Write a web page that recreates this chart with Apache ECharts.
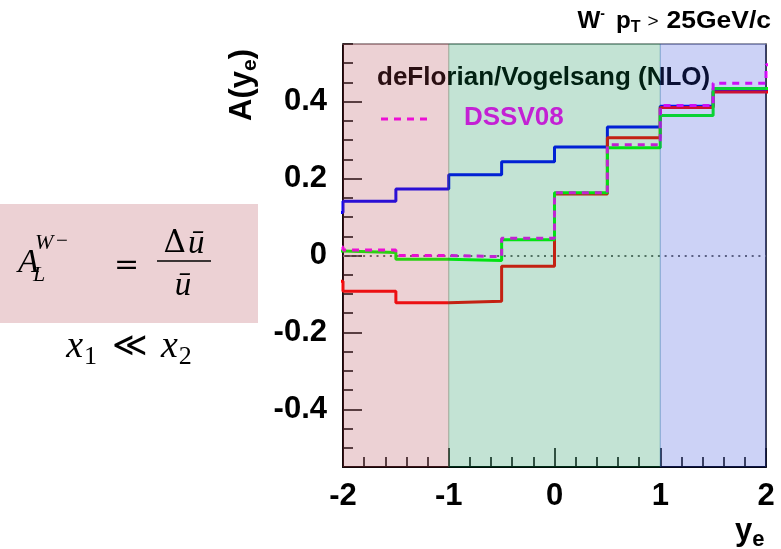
<!DOCTYPE html>
<html>
<head>
<meta charset="utf-8">
<script src="https://cdn.jsdelivr.net/npm/echarts@6/dist/echarts.min.js"></script>
<style>
  html, body { margin: 0; padding: 0; background: #fff; }
  #chart { width: 781px; height: 549px; }
</style>
</head>
<body>
<div id="chart"></div>
<script>
// Bin left edges in y_e (first and last bins lie just outside the axis range)
const binLeft = [-2.5, -2, -1.5, -1, -0.5, 0, 0.5, 1, 1.5, 2];
const binRightEnd = 2.5;

// Asymmetry A(y_e) per bin for each curve
const blueVals    = [0.112, 0.141, 0.173, 0.210, 0.244, 0.282, 0.334, 0.388, 0.428, 0.428];
const redVals     = [-0.067, -0.093, -0.123, -0.119, -0.028, 0.160, 0.306, 0.385, 0.425, 0.425];
const greenVals   = [0.012, 0.008, -0.010, -0.013, 0.041, 0.163, 0.280, 0.364, 0.434, 0.434];
const dssv08Vals  = [0.022, 0.014, 0.000, -0.003, 0.045, 0.163, 0.288, 0.390, 0.448, 0.496];

// Shaded rapidity regions [from, to]
const regions = [[-2, -1], [-1, 1], [1, 2]];
const regionColors = ['rgba(176,63,76,0.24)', 'rgba(5,138,76,0.24)', 'rgba(42,68,217,0.24)'];

// Axis ticks
const xTickLabels = [-2, -1, 0, 1, 2];
const yTickLabels = [-0.4, -0.2, 0, 0.2, 0.4];
const yMin = -0.55, yMax = 0.55;

function stepData(vals) {
  const pts = binLeft.map((x, i) => [x, vals[i]]);
  pts.push([binRightEnd, vals[vals.length - 1]]);
  return pts;
}

const mctx = document.createElement('canvas').getContext('2d');
function fontStr(r) {
  return (r.style || 'normal') + ' ' + (r.weight || 'normal') + ' ' + r.size + 'px ' + (r.family || '"Liberation Sans"');
}
// Lay out a row of text runs (for sub/superscripts); sx widens a run horizontally
function textRuns(runs, x, y, o) {
  o = o || {};
  const widths = runs.map(r => { mctx.font = fontStr(r); return mctx.measureText(r.t).width * (r.sx || 1) + (r.gap || 0); });
  const total = widths.reduce((a, b) => a + b, 0);
  const rot = o.rotation || 0;
  let adv = o.align === 'right' ? -total : o.align === 'center' ? -total / 2 : 0;
  return runs.map((r, i) => {
    const dy = r.dy || 0;
    let px, py;
    if (rot) { px = x + dy; py = y - adv; }
    else { px = x + adv; py = y + dy; }
    adv += widths[i];
    return {
      type: 'text', x: px, y: py, rotation: rot, scaleX: r.sx || 1, z: o.z || 1, silent: true,
      style: {
        text: r.t, font: fontStr(r), fill: r.color || o.color || '#000',
        align: 'left', verticalAlign: 'middle', textAlign: 'left', textVerticalAlign: 'middle'
      }
    };
  });
}

const chart = echarts.init(document.getElementById('chart'), null, { renderer: 'canvas' });

const labelFont = { fontSize: 31, fontWeight: 'bold', color: '#000', fontFamily: '"Liberation Sans", Arial, sans-serif' };
const serif = '"Liberation Serif", "DejaVu Serif", serif';
const serif2 = '"DejaVu Serif", serif';

const graphics = [].concat(
  // formula panel
  [{
    type: 'rect', shape: { x: 0, y: 204, width: 258, height: 119 }, z: 1, silent: true,
    style: { fill: '#ecd1d4' }
  }],
  textRuns([{ t: 'A', size: 34, style: 'italic', family: serif }], 18, 263),
  textRuns([{ t: 'W', size: 22, style: 'italic', family: serif }], 35, 243),
  textRuns([{ t: '\u2212', size: 21, family: serif }], 56, 241),
  textRuns([{ t: 'L', size: 22, style: 'italic', family: serif }], 33, 275),
  textRuns([{ t: '=', size: 30, family: serif2 }], 114, 266),
  textRuns([
    { t: '\u0394', size: 31, family: serif2, gap: 2 },
    { t: '\u016B', size: 33, style: 'italic', family: serif }
  ], 184, 244, { align: 'center' }),
  [{
    type: 'line', shape: { x1: 157, y1: 261, x2: 211, y2: 261 }, z: 1, silent: true,
    style: { stroke: '#000', lineWidth: 1.5 }
  }],
  textRuns([{ t: '\u016B', size: 33, style: 'italic', family: serif }], 183, 286, { align: 'center' }),
  textRuns([
    { t: 'x', size: 38, style: 'italic', family: serif, gap: 1 },
    { t: '1', size: 26, family: serif, dy: 10, gap: 15 },
    { t: '\u226A', size: 34, family: serif2, gap: 13 },
    { t: 'x', size: 38, style: 'italic', family: serif, gap: 1 },
    { t: '2', size: 26, family: serif, dy: 10 }
  ], 129, 347, { align: 'center' }),
  // header
  textRuns([
    { t: 'W', size: 23, weight: 'bold', sx: 1.05 },
    { t: '-', size: 14, weight: 'bold', dy: -8, gap: 11 },
    { t: 'p', size: 23, weight: 'bold', sx: 1.05 },
    { t: 'T', size: 16, weight: 'bold', dy: 6, gap: 7 },
    { t: '>', size: 19, gap: 8 },
    { t: '25GeV/c', size: 23, weight: 'bold', sx: 1.15 }
  ], 771, 22, { align: 'right' }),
  // axis titles
  textRuns([
    { t: 'A(y', size: 31, weight: 'bold' },
    { t: 'e', size: 21, weight: 'bold', dy: 8 },
    { t: ')', size: 31, weight: 'bold' }
  ], 242, 85, { align: 'center', rotation: Math.PI / 2 }),
  textRuns([
    { t: 'y', size: 31, weight: 'bold' },
    { t: 'e', size: 22, weight: 'bold', dy: 9 }
  ], 735, 531),
  // legend (sits under the shaded regions)
  textRuns([{ t: 'deFlorian/Vogelsang (NLO)', size: 26, weight: 'bold' }], 377, 78, { z: 3 }),
  [{
    type: 'line', shape: { x1: 381, y1: 119, x2: 428, y2: 119 }, z: 3, silent: true,
    style: { stroke: '#ff00ff', lineWidth: 3, lineDash: [7, 6] }
  }],
  textRuns([{ t: 'DSSV08', size: 26, weight: 'bold', color: '#ff00ff' }], 464, 118, { z: 3 })
);

function stepSeries(name, vals, color, dashed, z) {
  return {
    name: name, type: 'line', step: 'end', data: stepData(vals),
    showSymbol: false, symbol: 'none', z: z, clip: true,
    lineStyle: { color: color, width: 3, type: dashed ? [7, 6] : 'solid' },
    emphasis: { disabled: true }
  };
}

const option = {
  animation: false,
  backgroundColor: '#fff',
  grid: { left: 343, right: 15, top: 44, bottom: 82, containLabel: false },
  xAxis: [{
    type: 'value', min: -2, max: 2, interval: 1, position: 'bottom',
    axisLine: { show: true, onZero: false, lineStyle: { color: '#000', width: 2 } },
    axisTick: { show: true, inside: true, length: 19, lineStyle: { color: '#000', width: 1.5 } },
    minorTick: { show: true, splitNumber: 5, length: 10, lineStyle: { color: '#000', width: 1.5 } },
    axisLabel: Object.assign({ margin: 14, formatter: v => xTickLabels.includes(v) ? String(v) : '' }, labelFont),
    splitLine: { show: false }
  }, {
    type: 'value', min: -2, max: 2, interval: 1, position: 'top',
    axisLine: { show: true, onZero: false, lineStyle: { color: '#888', width: 1.5 } },
    axisTick: { show: false }, axisLabel: { show: false }, splitLine: { show: false }
  }],
  yAxis: [{
    type: 'value', min: yMin, max: yMax, interval: 0.05, position: 'left',
    axisLine: { show: true, onZero: false, lineStyle: { color: '#000', width: 2 } },
    axisTick: { show: true, inside: true, length: 10, lineStyle: { color: '#000', width: 1.5 } },
    axisLabel: Object.assign({
      margin: 16,
      padding: [10, 0, 0, 0],
      formatter: v => {
        const hit = yTickLabels.find(t => Math.abs(t - v) < 1e-6);
        return hit === undefined ? '' : (hit === 0 ? '0' : hit.toFixed(1));
      }
    }, labelFont),
    splitLine: { show: false }
  }, {
    type: 'value', min: yMin, max: yMax, interval: 0.05, position: 'left', offset: 0,
    axisLine: { show: false, onZero: false },
    axisTick: { show: true, inside: true, length: 19, customValues: yTickLabels, lineStyle: { color: '#000', width: 1.5 } },
    axisLabel: { show: false }, splitLine: { show: false }
  }, {
    type: 'value', min: yMin, max: yMax, interval: 0.05, position: 'right',
    axisLine: { show: true, onZero: false, lineStyle: { color: '#000', width: 1.5 } },
    axisTick: { show: false }, axisLabel: { show: false }, splitLine: { show: false }
  }],
  graphic: { elements: graphics },
  series: [
    Object.assign(stepSeries('blue', blueVals, '#0000ff', false, 5), {
      markLine: {
        silent: true, symbol: 'none', label: { show: false },
        lineStyle: { color: '#6a6a6a', width: 2, type: [2, 4.7] },
        data: [{ yAxis: 0 }]
      }
    }),
    stepSeries('red', redVals, '#ff0000', false, 5),
    stepSeries('green', greenVals, '#00ff00', false, 5),
    stepSeries('DSSV08', dssv08Vals, '#ff00ff', true, 5),
    {
      type: 'custom', z: 10, silent: true,
      data: regions.map((r, i) => [r[0], r[1], i]),
      encode: { x: [0, 1] },
      renderItem: function (params, api) {
        const x0 = api.value(0), x1 = api.value(1), ci = api.value(2);
        const p0 = api.coord([x0, yMax]);
        const p1 = api.coord([x1, yMin]);
        return {
          type: 'rect',
          shape: { x: p0[0], y: p0[1], width: p1[0] - p0[0], height: p1[1] - p0[1] },
          style: { fill: regionColors[ci], stroke: regionColors[ci], lineWidth: 1 }
        };
      }
    }
  ]
};

chart.setOption(option);
</script>
</body>
</html>
